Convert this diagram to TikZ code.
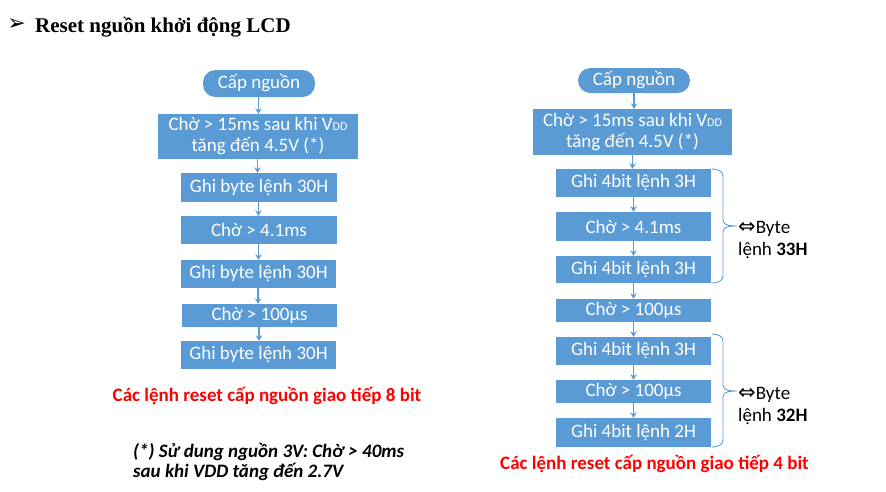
\documentclass[tikz,border=0pt]{standalone}
\usepackage{fontspec}
\setmainfont{Carlito}
\newfontfamily\titlefont{Liberation Serif}
\newfontfamily\symfont{DejaVu Sans}
\usetikzlibrary{arrows.meta}
\definecolor{boxblue}{HTML}{5B9BD5}
\definecolor{redtxt}{HTML}{FF0000}
\newcommand{\vdd}{V{\fontsize{12}{12}\selectfont DD}}
\begin{document}
\begin{tikzpicture}[x=1pt,y=-1pt,
 box/.style={fill=boxblue, draw=none, text=white, font=\fontsize{19}{21}\selectfont, inner sep=0pt, align=center},
 pill/.style={box, rounded corners=12.5pt},
 arr/.style={draw=boxblue, line width=1.8pt, -{Stealth[length=5.5pt,width=6.5pt]}},
 brc/.style={draw=boxblue, line width=0.9pt},
 lbl/.style={anchor=base west, inner sep=0pt, font=\fontsize{19}{21}\selectfont},
 redt/.style={anchor=base, text=redtxt, font=\bfseries\fontsize{19}{21}\selectfont, inner sep=0pt},
 note/.style={anchor=base west, inner sep=0pt, font=\bfseries\itshape\fontsize{19}{21}\selectfont},
 ]
\path[use as bounding box] (0,0) rectangle (886,491);

% title
\node[inner sep=0pt, font=\symfont\fontsize{22}{22}\selectfont] (bul) at (16.5,25) {➢};
\node[anchor=base west, inner sep=0pt, font=\titlefont\bfseries\fontsize{21}{24}\selectfont] (title) at (35,32) {Reset nguồn khởi động LCD};

% left column
\node[pill, minimum width=112, minimum height=27] (l0) at (259,83.5) {Cấp nguồn};
\node[box, minimum width=200, minimum height=45] (l1) at (258,136.5) {Chờ > 15ms sau khi \vdd\\tăng đến 4.5V (*)};
\node[box, minimum width=156, minimum height=29] (l2) at (259,187.5) {Ghi byte lệnh 30H};
\node[box, minimum width=156, minimum height=28] (l3) at (259,230) {Chờ > 4.1ms};
\node[box, minimum width=155, minimum height=28] (l4) at (258.5,274) {Ghi byte lệnh 30H};
\node[box, minimum width=155, minimum height=23] (l5) at (259.5,315.5) {Chờ > 100µs};
\node[box, minimum width=155, minimum height=28] (l6) at (258.5,355) {Ghi byte lệnh 30H};
\foreach \a/\b in {l0/l1,l1/l2,l2/l3,l3/l4,l4/l5,l5/l6}
  \draw[arr] ([xshift=-0.5pt]\a.south) -- ([xshift=-0.5pt]\a.south |- \b.north);

\node[redt] (t8) at (267,401) {Các lệnh reset cấp nguồn giao tiếp 8 bit};
\node[note] (n1) at (133,457) {(*) Sử dung nguồn 3V: Chờ > 40ms};
\node[note] (n2) at (133,477) {sau khi VDD tăng đến 2.7V};

% right column
\node[pill, minimum width=112, minimum height=25] (r0) at (634,80.5) {Cấp nguồn};
\node[box, minimum width=199, minimum height=46] (r1) at (632.5,132) {Chờ > 15ms sau khi \vdd\\tăng đến 4.5V (*)};
\node[box, minimum width=155, minimum height=28] (r2) at (633.5,183) {Ghi 4bit lệnh 3H};
\node[box, minimum width=155, minimum height=29] (r3) at (633.5,226.5) {Chờ > 4.1ms};
\node[box, minimum width=155, minimum height=27] (r4) at (633.5,269.5) {Ghi 4bit lệnh 3H};
\node[box, minimum width=155, minimum height=23] (r5) at (633.5,310.5) {Chờ > 100µs};
\node[box, minimum width=155, minimum height=28] (r6) at (633.5,351) {Ghi 4bit lệnh 3H};
\node[box, minimum width=155, minimum height=23] (r7) at (633.5,391.5) {Chờ > 100µs};
\node[box, minimum width=155, minimum height=29] (r8) at (633.5,432.5) {Ghi 4bit lệnh 2H};
\foreach \a/\b in {r0/r1,r1/r2,r2/r3,r3/r4,r4/r5,r5/r6,r6/r7,r7/r8}
  \draw[arr] (\a.south) -- (\a.south |- \b.north);

% braces
\draw[brc] (712,169) to[out=0,in=90] (723,176) -- (723,220) to[out=-90,in=180] (737,226)
           (737,226) to[out=180,in=90] (723,232) -- (723,276) to[out=-90,in=0] (712,283);
\draw[brc] (712,334) to[out=0,in=90] (723,341) -- (723,385) to[out=-90,in=180] (737,391)
           (737,391) to[out=180,in=90] (723,397) -- (723,440) to[out=-90,in=0] (712,447);

\node[lbl] (b1) at (738,233) {{\symfont\fontsize{21}{21}\selectfont ⇔}Byte};
\node[lbl] (b2) at (738,255) {lệnh \textbf{33H}};
\node[lbl] (b3) at (738,399) {{\symfont\fontsize{21}{21}\selectfont ⇔}Byte};
\node[lbl] (b4) at (738,421) {lệnh \textbf{32H}};

\node[redt] (t4) at (654.5,469) {Các lệnh reset cấp nguồn giao tiếp 4 bit};
\end{tikzpicture}
\end{document}
